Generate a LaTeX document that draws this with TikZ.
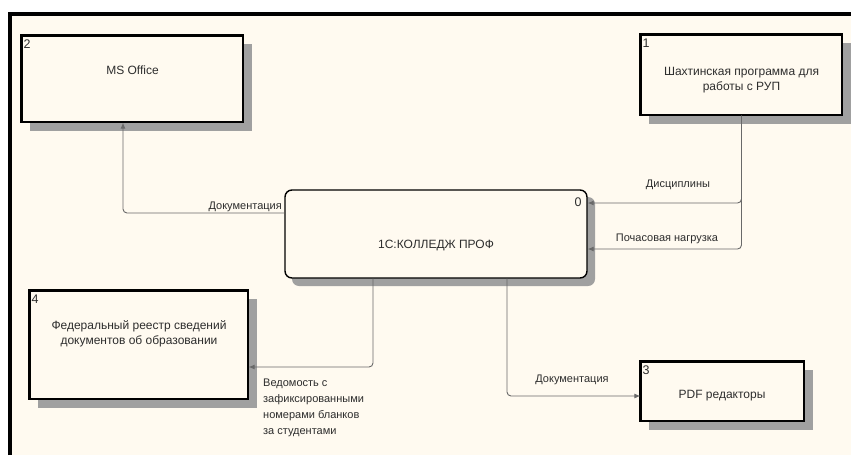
\documentclass[tikz,border=0pt]{standalone}
\usepackage{fontspec}
\setmainfont{Liberation Sans}
\usetikzlibrary{arrows.meta, positioning}
\definecolor{bgcream}{RGB}{255,250,240}
\definecolor{linegray}{RGB}{105,105,105}
\definecolor{shadowgray}{RGB}{160,160,160}
\definecolor{textgray}{RGB}{45,45,45}

\begin{document}
\begin{tikzpicture}[x=1pt, y=-1pt,
    ent/.style={draw, line width=1.2pt, fill=bgcream, inner sep=0pt},
    proc/.style={draw, line width=1.4pt, fill=bgcream, rounded corners=7pt,
                 inner sep=0pt, minimum width=302pt, minimum height=88pt},
    shadowfill/.style={fill=shadowgray},
    boxtxt/.style={font=\fontsize{12}{15}\selectfont, text=textgray, align=center},
    num/.style={font=\fontsize{12.5}{14}\selectfont, text=textgray,
                inner xsep=2pt, inner ysep=4pt},
    lbl/.style={font=\fontsize{11}{16}\selectfont, text=textgray, inner sep=1pt},
    arr/.style={-{Latex[length=6pt, width=5pt]}, line width=0.9pt,
                draw=linegray, rounded corners=4pt},
    edge/.style={line width=3pt}
  ]
  \useasboundingbox (0,0) rectangle (851,455);
  % Frame
  \fill[bgcream] (10,13) rectangle (851,455);
  \draw[line width=3.5pt] (10,455) -- (10,14) -- (851,14);
  % Shadows
  \fill[shadowfill] (30,44) rectangle (252,131);
  \fill[shadowfill] (649,43) rectangle (851,124);
  \fill[shadowfill, rounded corners=7pt] (292,197) rectangle (595,286);
  \fill[shadowfill] (38,299) rectangle (257,408);
  \fill[shadowfill] (649,370) rectangle (813,430);
  % External entity 2
  \node[ent, minimum width=221pt, minimum height=86pt,
        label={[num, anchor=north west]north west:2}] (b2) at (132.5,79) {};
  \node[boxtxt] (b2txt) at (132.5,70) {MS Office};
  % External entity 1
  \node[ent, minimum width=201pt, minimum height=80pt,
        label={[num, anchor=north west]north west:1}] (b1) at (741.5,75) {};
  \node[boxtxt] (b1txt) at (741.5,80) {Шахтинская программа для\\работы с РУП};
  % Process 0
  \node[proc, label={[num, anchor=north east, inner xsep=6pt, inner ysep=8pt]north east:0}] (b0) at (436,234) {};
  \node[boxtxt] (b0txt) at (436,246) {1С:КОЛЛЕДЖ ПРОФ};
  % External entity 4
  \node[ent, minimum width=218pt, minimum height=108pt,
        label={[num, anchor=north west]north west:4}] (b4) at (139,345) {};
  \node[boxtxt] (b4txt) at (139,334) {Федеральный реестр сведений\\документов об образовании};
  % External entity 3
  \node[ent, minimum width=163pt, minimum height=59pt,
        label={[num, anchor=north west]north west:3}] (b3) at (722.5,391.5) {};
  \node[boxtxt] (b3txt) at (722,396) {PDF редакторы};
  % Thick top and left edges
  \foreach \b in {b1,b2,b3,b4}
    \draw[edge] (\b.south west) -- (\b.north west) -- (\b.north east);
  % Arrows
  \draw[arr] ([yshift=21pt]b0.west) -| ([xshift=-9.5pt]b2.south);
  \draw[arr] (b1.south) |- ([yshift=31pt]b0.east);
  \draw[arr] (b1.south) |- ([yshift=-15pt]b0.east);
  \draw[arr] ([xshift=-63pt]b0.south) |- ([yshift=-22pt]b4.east);
  \draw[arr] ([xshift=71pt]b0.south) |- ([yshift=-4.5pt]b3.west);
  % Flow labels
  \node[lbl, anchor=east] (l1) at (283,207) {Документация};
  \node[lbl] (l2) at (678,185) {Дисциплины};
  \node[lbl] (l3) at (667,239) {Почасовая нагрузка};
  \node[lbl, anchor=north west, align=left] (l4) at (262,378)
    {Ведомость с\\зафиксированными\\номерами бланков\\за студентами};
  \node[lbl] (l5) at (572,380) {Документация};
\end{tikzpicture}
\end{document}
